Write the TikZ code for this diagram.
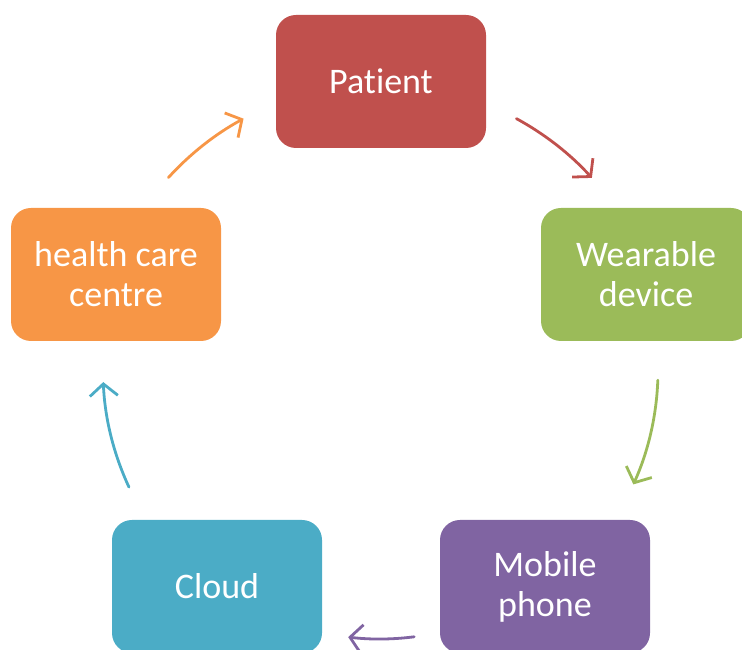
\documentclass[tikz,border=0pt]{standalone}
\usepackage{fontspec}
\setmainfont{Carlito}[Ligatures=NoCommon]
\usepackage{xcolor}
\definecolor{rot}{HTML}{C0504D}
\definecolor{gruen}{HTML}{9BBB59}
\definecolor{lila}{HTML}{8064A2}
\definecolor{tuerkis}{HTML}{4BACC6}
\definecolor{orang}{HTML}{F79646}
\usetikzlibrary{arrows.meta}

\begin{document}
\begin{tikzpicture}[x=1pt,y=1pt,line cap=round]
	\tikzstyle{kasten}=[rounded corners=20pt,minimum width=210pt,minimum height=133pt,inner sep=0pt,text=white,align=center,font=\fontsize{36}{40}\selectfont];
	\tikzstyle{pfeil}=[line width=2.8pt,-{Straight Barb[length=12pt,width=28pt]}];
%<--------------------------------------------------------------------------->%

	\useasboundingbox (0,0) rectangle (742,650);
	\coordinate (hub) at (380,280);
	\node[kasten,fill=rot]     (patient)  at (381,568.5) {Patient};
	\node[kasten,fill=gruen]   (wearable) at (646,375.5) {Wearable\\device};
	\node[kasten,fill=lila]    (mobile)   at (545,63.5)  {Mobile\\phone};
	\node[kasten,fill=tuerkis] (cloud)    at (217,63.5)  {Cloud};
	\node[kasten,fill=orang]   (centre)   at (116,375.5) {health care\\centre};
	%% cycle arrows
	\foreach \s/\e/\r/\c in {61.5/42.2/286/rot,-2.1/-24.3/278/gruen,-82.7/-96.8/269/lila,205/182.5/277/tuerkis,137.7/118.5/286/orang}
		\draw[pfeil,\c] ([shift={(\s:\r)}]hub) arc[start angle=\s,end angle=\e,radius=\r];
\end{tikzpicture}
\end{document}
